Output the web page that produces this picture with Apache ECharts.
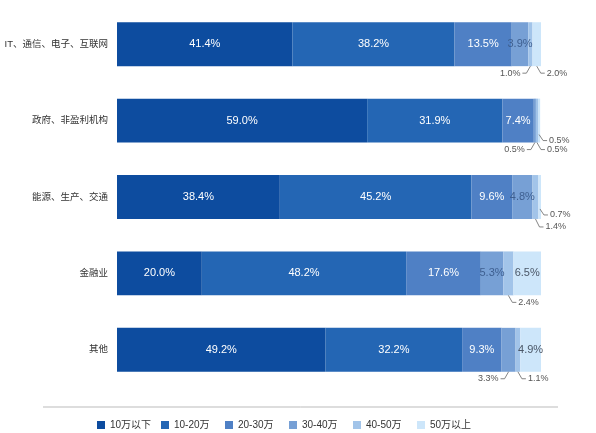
<!DOCTYPE html>
<html>
<head>
<meta charset="utf-8">
<script src="https://cdn.jsdelivr.net/npm/echarts@6/dist/echarts.min.js"></script>
<style>
  html, body { margin: 0; padding: 0; background: #fff; }
  #main { width: 596px; height: 433px; }
</style>
</head>
<body>
<div id="main"></div>
<script>
// 行业分类
const categories = ['IT、通信、电子、互联网', '政府、非盈利机构', '能源、生产、交通', '金融业', '其他'];
// 薪资区间
const ranges = ['10万以下', '10-20万', '20-30万', '30-40万', '40-50万', '50万以上'];
// 每个区间在各行业中的占比 (%)
const under10 = [41.4, 59.0, 38.4, 20.0, 49.2];
const r10to20 = [38.2, 31.9, 45.2, 48.2, 32.2];
const r20to30 = [13.5, 7.4, 9.6, 17.6, 9.3];
const r30to40 = [3.9, 0.5, 4.8, 5.3, 3.3];
const r40to50 = [1.0, 0.5, 1.4, 2.4, 1.1];
const over50 = [2.0, 0.5, 0.7, 6.5, 4.9];
const seriesValues = [under10, r10to20, r20to30, r30to40, r40to50, over50];

const colors = ['#0d4c9f', '#2466b4', '#4f80c5', '#77a0d5', '#a2c4e9', '#cde6fa'];
const labelColors = ['#fff', '#fff', '#fff', '#3e5f90', '#3e5f90', '#4b5767'];
const font = 'Liberation Sans, Noto Sans CJK SC, sans-serif';
const barRatio = 0.575;

// 小数值的引线标注: [行业, 区间, 方向, 起点偏移, 下落]
const callouts = [
  [0, 4, 'L', 0, 7], [0, 5, 'R', 0, 7],
  [1, 3, 'L', 0, 7], [1, 4, 'R', 0, 7], [1, 5, 'R', -8, 6],
  [2, 4, 'R', 0, 8], [2, 5, 'R', -10, 6],
  [3, 4, 'R', 0, 7],
  [4, 3, 'L', 0, 7], [4, 4, 'R', 0, 7]
];

const chart = echarts.init(document.getElementById('main'));

const barSeries = ranges.map((name, s) => ({
  name: name,
  type: 'bar',
  stack: 'total',
  barWidth: (barRatio * 100) + '%',
  itemStyle: { color: colors[s] },
  label: {
    position: 'inside',
    color: labelColors[s],
    fontSize: 11,
    fontFamily: font,
    formatter: p => p.value.toFixed(1) + '%'
  },
  data: seriesValues[s].map(v => ({ value: v, label: { show: v >= 3.5 } }))
}));

const calloutSeries = {
  type: 'custom',
  coordinateSystem: 'cartesian2d',
  silent: true,
  clip: false,
  z: 10,
  data: callouts.map(c => [0, c[0]]),
  renderItem: function (params, api) {
    const c = callouts[params.dataIndex];
    const cat = c[0], s = c[1];
    let start = 0;
    for (let i = 0; i < s; i++) start += seriesValues[i][cat];
    const mid = start + seriesValues[s][cat] / 2;
    const p = api.coord([mid, cat]);
    const h = api.size([0, 1])[1] * barRatio;
    const ax = p[0];
    const ay = p[1] + h / 2 + c[3];
    const ey = ay + c[4];
    const dir = c[2] === 'L' ? -1 : 1;
    const ex = ax + dir * 4;
    const hx = ex + dir * 4;
    return {
      type: 'group',
      children: [
        {
          type: 'polyline',
          shape: { points: [[ax, ay], [ex, ey], [hx, ey]] },
          style: { stroke: '#666', lineWidth: 0.8, fill: null }
        },
        {
          type: 'text',
          x: hx + dir * 2,
          y: ey,
          style: {
            text: seriesValues[s][cat].toFixed(1) + '%',
            fill: '#555',
            font: '9px ' + font,
            align: dir < 0 ? 'right' : 'left',
            verticalAlign: 'middle'
          }
        }
      ]
    };
  }
};

const option = {
  backgroundColor: '#fff',
  animation: false,
  grid: { left: 117, right: 55, top: 6, bottom: 45, containLabel: false, outerBoundsMode: 'none' },
  xAxis: { type: 'value', min: 0, max: 100, show: false },
  yAxis: {
    type: 'category',
    inverse: true,
    data: categories,
    axisLine: { show: false },
    axisTick: { show: false },
    axisLabel: { color: '#333', fontSize: 9.5, fontFamily: font, margin: 9 }
  },
  // 每个图例单独放置, 间距一致
  legend: ranges.map((name, i) => ({
    data: [name],
    left: 92 + 64 * i,
    top: 415,
    itemWidth: 8,
    itemHeight: 8,
    icon: 'rect',
    textStyle: { color: '#333', fontSize: 10, fontFamily: font }
  })),
  graphic: [{
    type: 'line',
    shape: { x1: 43, y1: 407, x2: 558, y2: 407 },
    style: { stroke: '#bbb', lineWidth: 1 }
  }],
  series: barSeries.concat([calloutSeries])
};

chart.setOption(option);
window.addEventListener('resize', function () {
  chart.resize();
});
</script>
</body>
</html>
